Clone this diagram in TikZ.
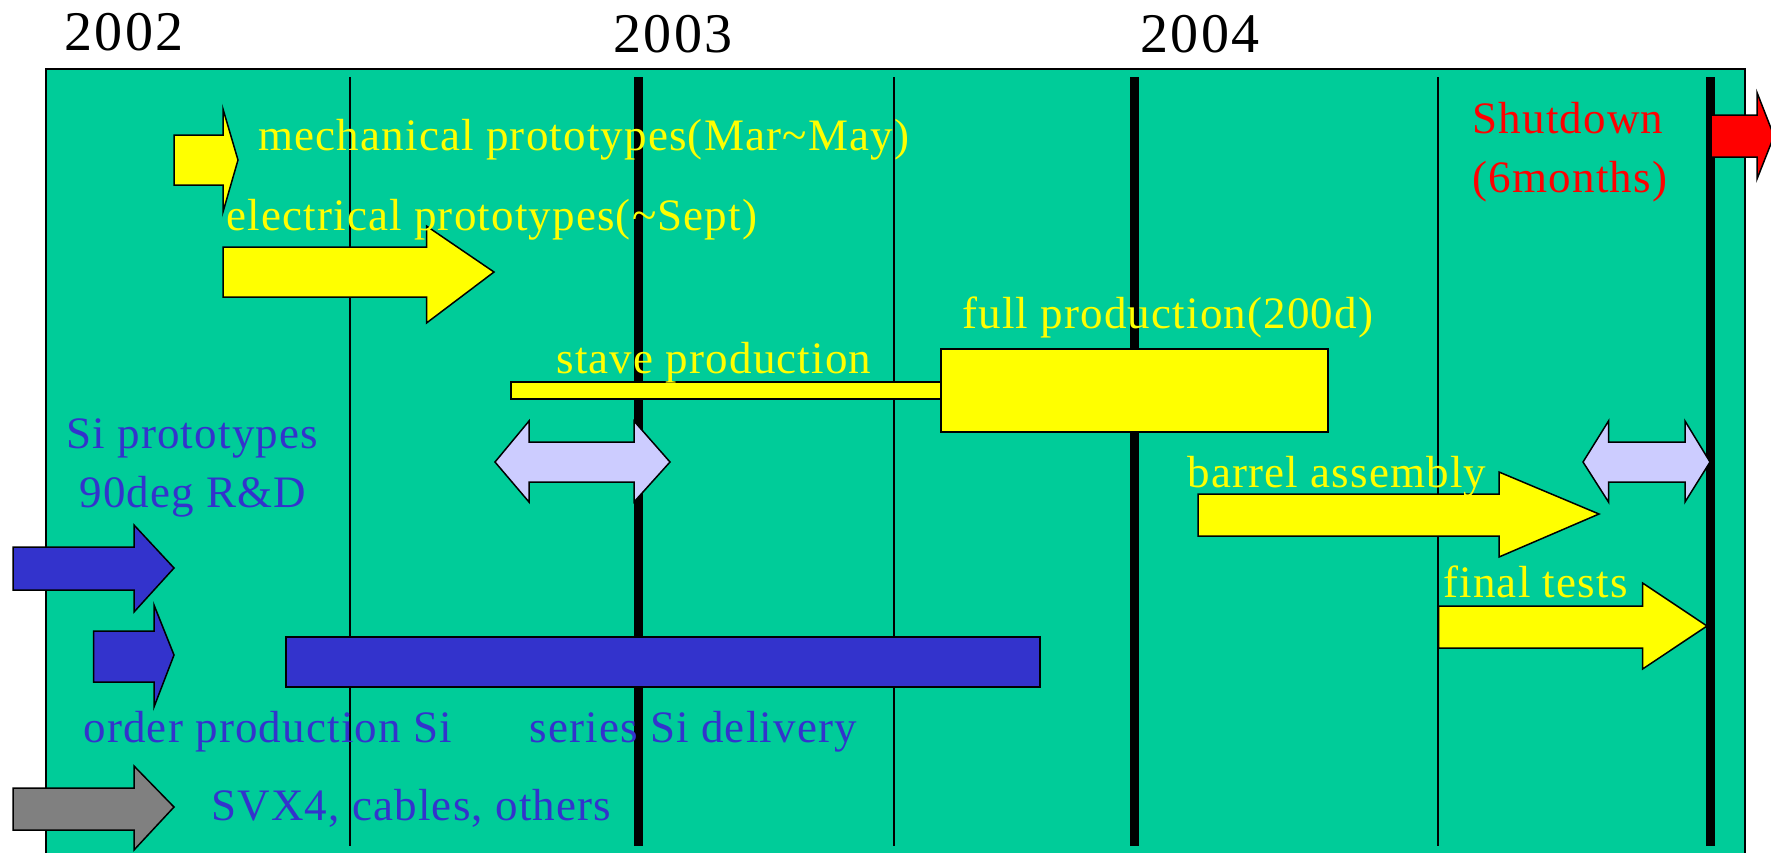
\documentclass[tikz,border=0pt]{standalone}
\usepackage{fontspec}
\setmainfont{Liberation Serif}
\newfontfamily\yearfont[LetterSpace=4.5]{Liberation Serif}
\newfontfamily\lblfont[LetterSpace=2.6]{Liberation Serif}
\definecolor{bggreen}{HTML}{00CC99}
\definecolor{byellow}{HTML}{FFFF00}
\definecolor{bblue}{HTML}{3333CC}
\definecolor{blav}{HTML}{CCCCFF}
\definecolor{bred}{HTML}{FF0000}
\definecolor{bgray}{HTML}{808080}
\newcommand{\blockarr}[9]{%
  \draw[#1] (#2,#3) -- (#5,#3) -- (#5,#6) -- (#8,#9) -- (#5,#7) -- (#5,#4) -- (#2,#4) -- cycle;}
\newcommand{\dblarr}[9]{%
  \draw[#1] (#2,#6) -- (#3,#8) -- (#3,#7) -- (#4,#7) -- (#4,#8) -- (#5,#6) -- (#4,#9) -- (#4,{#7+40}) -- (#3,{#7+40}) -- (#3,#9) -- cycle;}
\begin{document}
\begin{tikzpicture}[x=0.5pt,y=-0.5pt,
  boxshape/.style={draw=black,line width=0.75pt,line join=miter},
  yearlbl/.style={anchor=base west,inner sep=0pt,font=\yearfont\fontsize{28pt}{32pt}\selectfont,text=black},
  lbl/.style={anchor=base west,inner sep=0pt,font=\lblfont\fontsize{22.5pt}{27pt}\selectfont},
  clbl/.style={anchor=base,inner sep=0pt,font=\lblfont\fontsize{22.5pt}{27pt}\selectfont},
  thinline/.style={line width=0.75pt,black},
  thickline/.style={line width=4.5pt,black}]
\useasboundingbox (0,0) rectangle (1771,852);
\clip (0,0) rectangle (1771,852);
\fill[white] (0,0) rectangle (1771,852);
% panel
\draw[fill=bggreen,draw=black,line width=1pt] (46,69) rectangle (1744.5,900);
% year labels
\node[yearlbl] (y2002) at (64,50) {2002};
\node[yearlbl] (y2003) at (613,52) {2003};
\node[yearlbl] (y2004) at (1140,52) {2004};
% grid lines
\foreach \x in {350,894,1438} \draw[thinline] (\x,77) -- (\x,846);
\foreach \x in {638,1134,1710.5} \draw[thickline] (\x,77) -- (\x,846);
% bars
\draw[boxshape,fill=byellow] (511,382) rectangle (941,399);
\draw[boxshape,fill=byellow] (941,349) rectangle (1328,432);
\draw[boxshape,fill=bblue] (286,637) rectangle (1040,687);
% block arrows
\blockarr{boxshape,fill=byellow}{174}{135}{185}{223}{109}{212}{238}{160}
\blockarr{boxshape,fill=byellow}{223}{247}{297}{426.5}{226}{323}{494}{272}
\blockarr{boxshape,fill=byellow}{1198}{494}{536}{1499}{472}{557}{1599}{514}
\blockarr{boxshape,fill=byellow}{1438.6}{606}{648}{1642.6}{583}{669}{1707}{626}
\blockarr{boxshape,fill=bblue}{13}{547}{590}{134}{525}{612}{174}{568}
\blockarr{boxshape,fill=bblue}{93.5}{631}{682}{154}{605}{707}{174}{655}
\blockarr{boxshape,fill=bgray}{13}{788}{830}{134}{766}{850}{174}{807}
\blockarr{boxshape,fill=bred}{1711}{115}{157}{1757}{92.5}{179}{1774}{136}
% double arrows
\dblarr{boxshape,fill=blav}{495}{529}{634}{670}{462}{442}{421}{502}
\dblarr{boxshape,fill=blav}{1583}{1608.5}{1685}{1710}{462}{442}{421}{502}
% labels
\node[lbl,text=byellow] (mech) at (258,150) {mechanical prototypes(Mar\textasciitilde May)};
\node[lbl,text=byellow] (elec) at (226,230) {electrical prototypes(\textasciitilde Sept)};
\node[lbl,text=byellow] (stave) at (556,373) {stave production};
\node[lbl,text=byellow] (full) at (962,328) {full production(200d)};
\node[clbl,text=bred] (shut1) at (1568,133) {Shutdown};
\node[clbl,text=bred] (shut2) at (1570,192) {(6months)};
\node[lbl,text=bblue] (sip) at (66,448) {Si prototypes};
\node[lbl,text=bblue] (deg) at (79,507) {90deg R\&D};
\node[lbl,text=byellow] (barrel) at (1187,487) {barrel assembly};
\node[lbl,text=byellow] (final) at (1443,597) {final tests};
\node[lbl,text=bblue] (order) at (83,742) {order production Si};
\node[lbl,text=bblue] (series) at (529,742) {series Si delivery};
\node[lbl,text=bblue] (svx) at (211,820) {SVX4, cables, others};
\end{tikzpicture}
\end{document}
